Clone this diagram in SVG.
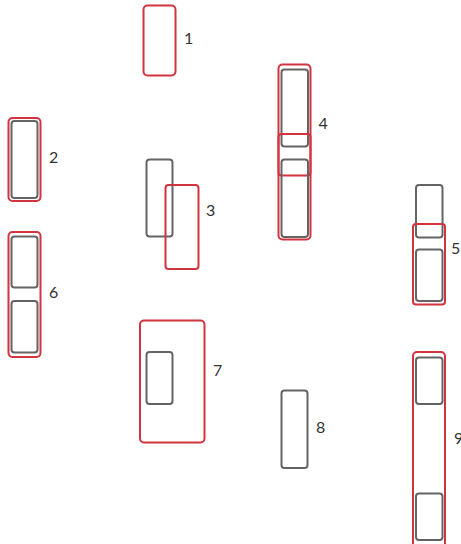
<svg xmlns="http://www.w3.org/2000/svg" width="461" height="544" viewBox="0 0 461 544">
<style>
.r{fill:none;stroke:#d1343f;stroke-width:2}
.g{fill:none;stroke:#646464;stroke-width:2}
text{font-family:Lato,"Liberation Sans",Arial,sans-serif;font-size:16px;fill:#333}
</style>
<rect width="461" height="544" fill="#fff"/>
<g id="n1"><rect class="r" x="143.5" y="5.5" width="32" height="70" rx="4"/><text x="184" y="44">1</text></g>
<g id="n2"><rect class="r" x="8.5" y="118" width="32" height="83" rx="4"/><rect class="g" x="11.5" y="121" width="26" height="77" rx="3"/><text x="49" y="163">2</text></g>
<g id="n3"><rect class="g" x="146.5" y="159.5" width="26" height="77" rx="3"/><rect class="r" x="165.5" y="185" width="33" height="84" rx="3"/><text x="206" y="216">3</text></g>
<g id="n4"><rect class="r" x="278.5" y="64.5" width="32" height="175" rx="4"/><rect class="g" x="281.5" y="69.5" width="26.5" height="77" rx="3"/><rect class="r" x="278.5" y="134" width="32" height="41.5" rx="3"/><rect class="g" x="281.5" y="159.5" width="26.5" height="77.5" rx="3"/><text x="318.5" y="129">4</text></g>
<g id="n5"><rect class="g" x="416" y="185" width="26.5" height="52.5" rx="3"/><rect class="r" x="413" y="224" width="32" height="80.5" rx="3"/><rect class="g" x="416" y="249.5" width="26.5" height="51.5" rx="3"/><text x="451" y="254">5</text></g>
<g id="n6"><rect class="r" x="8.5" y="232" width="32" height="125" rx="4"/><rect class="g" x="11.5" y="236.5" width="26" height="51" rx="3"/><rect class="g" x="11.5" y="301" width="26" height="51.5" rx="3"/><text x="49" y="298">6</text></g>
<g id="n7"><rect class="r" x="140" y="320.5" width="64.5" height="122" rx="4"/><rect class="g" x="146.5" y="352" width="26" height="52" rx="3"/><text x="213" y="376">7</text></g>
<g id="n8"><rect class="g" x="281.5" y="390.5" width="26" height="77.5" rx="3"/><text x="316" y="433">8</text></g>
<g id="n9"><rect class="r" x="413" y="352" width="32" height="196" rx="4"/><rect class="g" x="416" y="357.5" width="26.5" height="46.5" rx="3"/><rect class="g" x="416" y="493.5" width="26.5" height="46.5" rx="3"/><text x="454" y="444">9</text></g>
<g id="connectors"></g>
</svg>
